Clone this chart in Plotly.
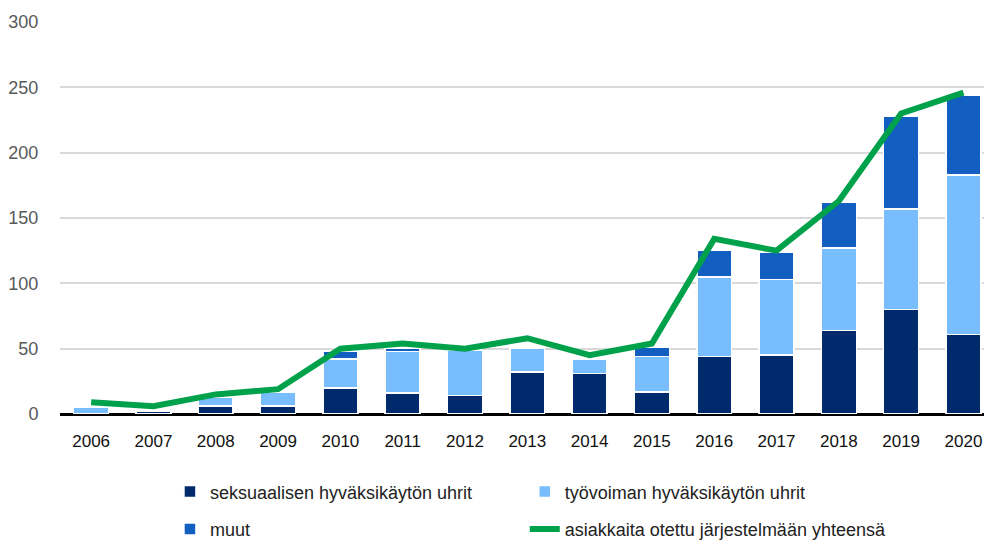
import plotly.graph_objects as go

years = ["2006", "2007", "2008", "2009", "2010", "2011", "2012", "2013", "2014",
         "2015", "2016", "2017", "2018", "2019", "2020"]
seksuaalinen = [0, 2, 6, 6, 20, 16, 14, 32, 31, 17, 44, 45, 64, 80, 61]
tyovoima = [5, 0, 7, 11, 22, 32, 35, 18, 11, 27, 61, 58, 63, 77, 122]
muut = [0, 1, 0, 0, 6, 2, 0, 0, 0, 7, 20, 21, 35, 71, 61]
yhteensa = [9, 6, 15, 19, 50, 54, 50, 58, 45, 54, 134, 125, 163, 230, 246]

names = ["seksuaalisen hyväksikäytön uhrit", "työvoiman hyväksikäytön uhrit",
         "muut", "asiakkaita otettu järjestelmään yhteensä"]
colors = ["#002a6c", "#78bdfd", "#135ec1", "#00a14b"]

FONT = "Liberation Sans, Arial, sans-serif"

fig = go.Figure()
for vals, nm, col, lg, grp in [(seksuaalinen, names[0], colors[0], "legend", "a"),
                               (tyovoima, names[1], colors[1], "legend2", "c"),
                               (muut, names[2], colors[2], "legend", "b")]:
    fig.add_trace(go.Bar(x=years, y=vals, name=nm, marker_color=col,
                         marker_line_color="white", marker_line_width=1.5,
                         legend=lg, legendgroup=grp))
fig.add_trace(go.Scatter(x=years, y=yhteensa, name=names[3], mode="lines",
                         line=dict(color=colors[3], width=6), legend="legend2",
                         legendgroup="d"))

leg_common = dict(orientation="v", yanchor="middle", y=-0.2459, xanchor="left",
                  font=dict(size=18, color="#222222"), itemwidth=30,
                  traceorder="grouped", tracegroupgap=11, bgcolor="rgba(0,0,0,0)")

fig.update_layout(
    barmode="stack",
    bargap=0.44,
    width=976, height=534,
    margin=dict(l=52, r=0, t=14, b=127.5, autoexpand=False),
    plot_bgcolor="white", paper_bgcolor="white",
    font=dict(family=FONT, size=18, color="#222222"),
    legend=dict(x=0.119, **leg_common),
    legend2=dict(x=0.503, **leg_common),
)
fig.update_xaxes(range=[-0.5, 14.33], showgrid=False, ticks="outside", ticklen=12,
                 tickcolor="rgba(0,0,0,0)", tickfont=dict(size=17, color="#111111"),
                 showline=False)
fig.update_yaxes(range=[0, 300], dtick=50, showgrid=True, gridcolor="#d9d9d9",
                 gridwidth=2, zeroline=True, zerolinecolor="#000000", zerolinewidth=3,
                 ticks="outside", ticklen=17, tickcolor="rgba(0,0,0,0)",
                 tickfont=dict(size=18, color="#595959"))

fig.write_html("out.html")
